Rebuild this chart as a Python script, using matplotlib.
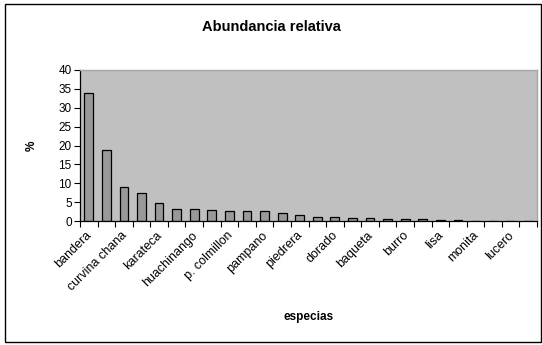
import numpy as np
import matplotlib
matplotlib.use("Agg")
import matplotlib.pyplot as plt
from matplotlib.patches import Rectangle
from matplotlib import transforms

plt.rcParams['font.family'] = ['Liberation Sans', 'DejaVu Sans']

# relative abundance (%) for the 26 species, in rank order
abundancia = [34.0, 18.9, 9.0, 7.5, 4.8, 3.1, 3.1, 2.8, 2.6, 2.6, 2.6, 2.0, 1.5,
              1.15, 1.15, 0.9, 0.9, 0.6, 0.6, 0.6, 0.35, 0.3, 0.0, 0.0, 0.0, 0.0]
# Excel only shows every other category name
etiquetas = ["bandera", "curvina chana", "karateca", "huachinango", "p. colmillon",
             "pampano", "piedrera", "dorado", "baqueta", "burro", "lisa",
             "monita", "lucero"]
y_ticks = [0, 5, 10, 15, 20, 25, 30, 35, 40]

fig = plt.figure(figsize=(5.42, 3.45), dpi=100)
fig.patch.set_facecolor('white')

# outer chart border
fig.patches.append(Rectangle((5 / 542, 3 / 345), 535.5 / 542, 338.5 / 345,
                             transform=fig.transFigure, fill=False,
                             edgecolor='black', linewidth=1.0))

ax = fig.add_axes([80 / 542, 124 / 345, 457 / 542, 151 / 345])
ax.set_facecolor('#C0C0C0')

n = len(abundancia)
x = np.arange(n)
ax.bar(x, abundancia, width=0.5, color='#999999', edgecolor='black', linewidth=0.9)

ax.set_xlim(-0.5, n - 0.5)
ax.set_ylim(0, 40)
ax.set_yticks(y_ticks)
ax.set_yticklabels([str(v) for v in y_ticks], fontsize=8.5)
ax.tick_params(axis='y', length=4, width=0.8, pad=2)

# labels at every second category, tick marks between categories
ax.set_xticks(x[::2])
ax.set_xticklabels(etiquetas, rotation=45, ha='right', rotation_mode='anchor',
                   fontsize=9)
ax.tick_params(axis='x', which='major', length=0, pad=6)
shift = transforms.ScaledTranslation(-3 / 100, 0, fig.dpi_scale_trans)
for lbl in ax.get_xticklabels():
    lbl.set_transform(lbl.get_transform() + shift)
ax.set_xticks(np.arange(n + 1) - 0.5, minor=True)
ax.tick_params(axis='x', which='minor', length=4, width=0.8)

for side in ['left', 'bottom']:
    ax.spines[side].set_color('black')
    ax.spines[side].set_linewidth(0.9)
for side in ['top', 'right']:
    ax.spines[side].set_color('#A6A6A6')
    ax.spines[side].set_linewidth(1.0)

ax.set_xlabel('especias', fontsize=8.5, weight='bold', labelpad=13)
ax.set_ylabel('%', fontsize=8.5, weight='bold', labelpad=15)
fig.text(271 / 542, 1 - 27 / 345, 'Abundancia relativa', ha='center', va='center',
         fontsize=10.5, weight='bold')

plt.savefig('out.png', dpi=100)
